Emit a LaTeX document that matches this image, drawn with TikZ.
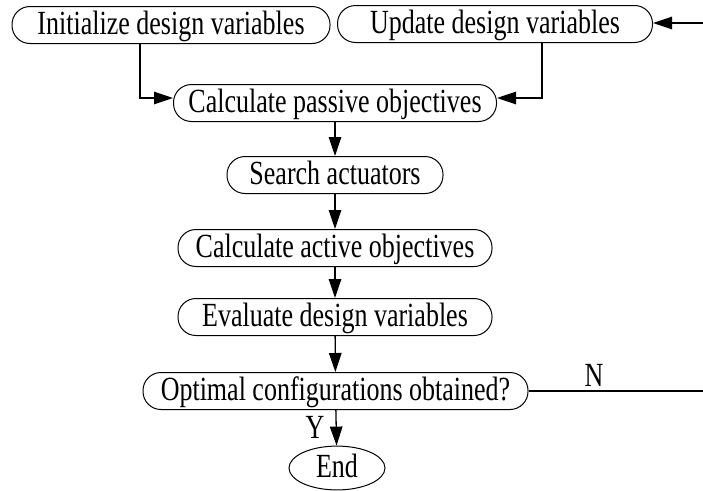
\documentclass[tikz,border=0pt]{standalone}
\usepackage{fontspec}
\setmainfont{Liberation Serif}
\usetikzlibrary{arrows.meta,shapes.geometric}
\newcommand{\tx}[1]{\scalebox{1}[1.3]{#1}}
\begin{document}
\begin{tikzpicture}[x=1pt,y=-1pt,
  txt/.style={font=\fontsize{26}{30}\selectfont, text height=25pt, text depth=6pt},
  box/.style={txt, draw, rounded corners=18pt, minimum height=37pt, inner sep=0pt, line width=1pt},
  endbox/.style={txt, draw, ellipse, minimum width=96pt, minimum height=42pt, inner sep=0pt, line width=1pt},
  arr/.style={-{Triangle[length=19pt,width=12.5pt]}, line width=1.3pt},
  ln/.style={line width=1.3pt},
  lbl/.style={txt, inner sep=0pt}]
\useasboundingbox (0,0) rectangle (703,490);
\node[box, minimum width=318pt] (init) at (171,25) {\tx{Initialize design variables}};
\node[box, minimum width=315pt] (update) at (495,24) {\tx{Update design variables}};
\node[box, minimum width=323pt] (passive) at (335,103) {\tx{Calculate passive objectives}};
\node[box, minimum width=216pt] (search) at (335,175) {\tx{Search actuators}};
\node[box, minimum width=314pt] (active) at (335,248) {\tx{Calculate active objectives}};
\node[box, minimum width=314pt] (eval) at (335,317) {\tx{Evaluate design variables}};
\node[box, minimum width=385pt] (opt) at (335.5,391) {\tx{Optimal configurations obtained?}};
\node[endbox] (end) at (337,468) {\tx{End}};
\coordinate (ia) at (140,98);
\coordinate (ua) at (542,98);
\coordinate (rin) at (703,23);
\coordinate (nout) at (703,391);
\draw[arr] (init.south -| ia) -- (ia) -- (passive.west |- ia);
\draw[arr] (update.south -| ua) -- (ua) -- (passive.east |- ua);
\draw[arr] (rin) -- (update.east |- rin);
\draw[arr] (passive) -- (search);
\draw[arr] (search) -- (active);
\draw[arr] (active) -- (eval);
\draw[arr] (eval) -- (opt);
\draw[arr] (opt) -- (end);
\draw[ln] (opt.east) -- (nout);
\node[lbl] (nl) at (594,377) {\tx{N}};
\node[lbl] (yl) at (315,429) {\tx{Y}};
\end{tikzpicture}
\end{document}
